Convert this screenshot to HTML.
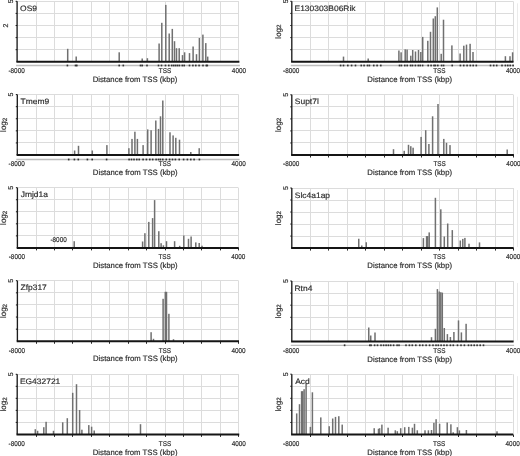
<!DOCTYPE html>
<html><head><meta charset="utf-8"><style>
html,body{margin:0;padding:0;background:#fff;}
svg text{stroke:#2e2e2e;stroke-width:0.18px;}
svg{display:block;font-family:"Liberation Sans", sans-serif;-webkit-font-smoothing:antialiased;text-rendering:geometricPrecision;filter:grayscale(1);}
</style></head><body>
<svg width="520" height="456" viewBox="0 0 520 456">
<rect width="520" height="456" fill="#fff"/>
<line x1="36.5" y1="1.3" x2="36.5" y2="61.8" stroke="#dcdcdc" stroke-width="1"/>
<line x1="54.5" y1="1.3" x2="54.5" y2="61.8" stroke="#dcdcdc" stroke-width="1"/>
<line x1="72.5" y1="1.3" x2="72.5" y2="61.8" stroke="#dcdcdc" stroke-width="1"/>
<line x1="91.5" y1="1.3" x2="91.5" y2="61.8" stroke="#dcdcdc" stroke-width="1"/>
<line x1="109.5" y1="1.3" x2="109.5" y2="61.8" stroke="#dcdcdc" stroke-width="1"/>
<line x1="128.5" y1="1.3" x2="128.5" y2="61.8" stroke="#dcdcdc" stroke-width="1"/>
<line x1="146.5" y1="1.3" x2="146.5" y2="61.8" stroke="#dcdcdc" stroke-width="1"/>
<line x1="165.5" y1="1.3" x2="165.5" y2="61.8" stroke="#dcdcdc" stroke-width="1"/>
<line x1="183.5" y1="1.3" x2="183.5" y2="61.8" stroke="#dcdcdc" stroke-width="1"/>
<line x1="201.5" y1="1.3" x2="201.5" y2="61.8" stroke="#dcdcdc" stroke-width="1"/>
<line x1="220.5" y1="1.3" x2="220.5" y2="61.8" stroke="#dcdcdc" stroke-width="1"/>
<line x1="238.5" y1="1.3" x2="238.5" y2="61.8" stroke="#dcdcdc" stroke-width="1"/>
<line x1="17.1" y1="1.5" x2="238.9" y2="1.5" stroke="#dcdcdc" stroke-width="1"/>
<line x1="17.1" y1="13.5" x2="238.9" y2="13.5" stroke="#dcdcdc" stroke-width="1"/>
<line x1="17.1" y1="25.5" x2="238.9" y2="25.5" stroke="#dcdcdc" stroke-width="1"/>
<line x1="17.1" y1="37.5" x2="238.9" y2="37.5" stroke="#dcdcdc" stroke-width="1"/>
<line x1="17.1" y1="49.5" x2="238.9" y2="49.5" stroke="#dcdcdc" stroke-width="1"/>
<rect x="66.95" y="48.8" width="1.5" height="13" fill="#707070"/>
<rect x="75.45" y="56.5" width="1.5" height="5.3" fill="#707070"/>
<rect x="118.45" y="52.3" width="1.5" height="9.5" fill="#707070"/>
<rect x="141.45" y="58.5" width="1.5" height="3.3" fill="#707070"/>
<rect x="146.65" y="58.2" width="1.5" height="3.6" fill="#707070"/>
<rect x="158.35" y="43.5" width="1.5" height="18.3" fill="#707070"/>
<rect x="161.05" y="22.8" width="1.5" height="39" fill="#707070"/>
<rect x="165.05" y="4.9" width="1.5" height="56.9" fill="#707070"/>
<rect x="168.45" y="33.5" width="1.5" height="28.3" fill="#707070"/>
<rect x="171.55" y="28.9" width="1.5" height="32.9" fill="#707070"/>
<rect x="173.75" y="41.2" width="1.5" height="20.6" fill="#707070"/>
<rect x="175.75" y="48.2" width="1.5" height="13.6" fill="#707070"/>
<rect x="178.45" y="48.2" width="1.5" height="13.6" fill="#707070"/>
<rect x="181.75" y="55.1" width="1.5" height="6.7" fill="#707070"/>
<rect x="183.85" y="52.3" width="1.5" height="9.5" fill="#707070"/>
<rect x="188.75" y="53.1" width="1.5" height="8.7" fill="#707070"/>
<rect x="192.35" y="46.5" width="1.5" height="15.3" fill="#707070"/>
<rect x="195.75" y="54.2" width="1.5" height="7.6" fill="#707070"/>
<rect x="198.65" y="38" width="1.5" height="23.8" fill="#707070"/>
<rect x="202.15" y="34.6" width="1.5" height="27.2" fill="#707070"/>
<rect x="205.05" y="43.1" width="1.5" height="18.7" fill="#707070"/>
<rect x="206.95" y="56.6" width="1.5" height="5.2" fill="#707070"/>
<line x1="15.6" y1="1.3" x2="17.1" y2="1.3" stroke="#151515" stroke-width="1"/>
<line x1="15.6" y1="13.4" x2="17.1" y2="13.4" stroke="#151515" stroke-width="1"/>
<line x1="15.6" y1="25.5" x2="17.1" y2="25.5" stroke="#151515" stroke-width="1"/>
<line x1="15.6" y1="37.6" x2="17.1" y2="37.6" stroke="#151515" stroke-width="1"/>
<line x1="15.6" y1="49.7" x2="17.1" y2="49.7" stroke="#151515" stroke-width="1"/>
<line x1="16.1" y1="65.5" x2="239.9" y2="65.5" stroke="#bdbdbd" stroke-width="1.3"/>
<rect x="66.6" y="64.6" width="1.6" height="1.8" fill="#333"/>
<rect x="74.7" y="64.6" width="1.6" height="1.8" fill="#333"/>
<rect x="76" y="64.6" width="1.6" height="1.8" fill="#333"/>
<rect x="118.4" y="64.6" width="1.6" height="1.8" fill="#333"/>
<rect x="122.5" y="64.6" width="1.6" height="1.8" fill="#333"/>
<rect x="139.7" y="64.6" width="1.6" height="1.8" fill="#333"/>
<rect x="141.4" y="64.6" width="1.6" height="1.8" fill="#333"/>
<rect x="146.2" y="64.6" width="1.6" height="1.8" fill="#333"/>
<rect x="157.7" y="64.6" width="1.6" height="1.8" fill="#333"/>
<rect x="160.7" y="64.6" width="1.6" height="1.8" fill="#333"/>
<rect x="164.7" y="64.6" width="1.6" height="1.8" fill="#333"/>
<rect x="168" y="64.6" width="1.6" height="1.8" fill="#333"/>
<rect x="170.9" y="64.6" width="1.6" height="1.8" fill="#333"/>
<rect x="172.9" y="64.6" width="1.6" height="1.8" fill="#333"/>
<rect x="174.8" y="64.6" width="1.6" height="1.8" fill="#333"/>
<rect x="176.7" y="64.6" width="1.6" height="1.8" fill="#333"/>
<rect x="178.6" y="64.6" width="1.6" height="1.8" fill="#333"/>
<rect x="181.5" y="64.6" width="1.6" height="1.8" fill="#333"/>
<rect x="183.4" y="64.6" width="1.6" height="1.8" fill="#333"/>
<rect x="188.7" y="64.6" width="1.6" height="1.8" fill="#333"/>
<rect x="192.1" y="64.6" width="1.6" height="1.8" fill="#333"/>
<rect x="195" y="64.6" width="1.6" height="1.8" fill="#333"/>
<rect x="198.3" y="64.6" width="1.6" height="1.8" fill="#333"/>
<rect x="202.2" y="64.6" width="1.6" height="1.8" fill="#333"/>
<rect x="205.5" y="64.6" width="1.6" height="1.8" fill="#333"/>
<rect x="206.5" y="64.6" width="1.6" height="1.8" fill="#333"/>
<line x1="17.1" y1="1.3" x2="17.1" y2="61.8" stroke="#1c1c1c" stroke-width="1.35"/>
<line x1="16.4" y1="61.8" x2="239.4" y2="61.8" stroke="#151515" stroke-width="2"/>
<text transform="translate(20.1,10.95) scale(1.07,1)" font-size="7.9" fill="#2e2e2e">OS9</text>
<text transform="translate(8.42,72.85) scale(0.91,1)" font-size="7" fill="#2e2e2e">-8000</text>
<text transform="translate(158.85,72.85) scale(0.91,1)" font-size="7" fill="#2e2e2e">TSS</text>
<text transform="translate(231.87,72.85) scale(0.91,1)" font-size="7" fill="#2e2e2e">4000</text>
<text transform="translate(92.66,81.9) scale(1,1)" font-size="7.75" fill="#2e2e2e">Distance from TSS (kbp)</text>
<text transform="translate(13.1,1.3) rotate(-90)" font-size="7" fill="#2e2e2e" text-anchor="middle" dy="0">5</text>
<text transform="translate(7.9,25.5) rotate(-90)" font-size="7" fill="#2e2e2e" text-anchor="middle" dy="0">2</text>
<line x1="310.5" y1="1.3" x2="310.5" y2="61.8" stroke="#dcdcdc" stroke-width="1"/>
<line x1="328.5" y1="1.3" x2="328.5" y2="61.8" stroke="#dcdcdc" stroke-width="1"/>
<line x1="347.5" y1="1.3" x2="347.5" y2="61.8" stroke="#dcdcdc" stroke-width="1"/>
<line x1="365.5" y1="1.3" x2="365.5" y2="61.8" stroke="#dcdcdc" stroke-width="1"/>
<line x1="384.5" y1="1.3" x2="384.5" y2="61.8" stroke="#dcdcdc" stroke-width="1"/>
<line x1="402.5" y1="1.3" x2="402.5" y2="61.8" stroke="#dcdcdc" stroke-width="1"/>
<line x1="421.5" y1="1.3" x2="421.5" y2="61.8" stroke="#dcdcdc" stroke-width="1"/>
<line x1="439.5" y1="1.3" x2="439.5" y2="61.8" stroke="#dcdcdc" stroke-width="1"/>
<line x1="458.5" y1="1.3" x2="458.5" y2="61.8" stroke="#dcdcdc" stroke-width="1"/>
<line x1="476.5" y1="1.3" x2="476.5" y2="61.8" stroke="#dcdcdc" stroke-width="1"/>
<line x1="495.5" y1="1.3" x2="495.5" y2="61.8" stroke="#dcdcdc" stroke-width="1"/>
<line x1="513.5" y1="1.3" x2="513.5" y2="61.8" stroke="#dcdcdc" stroke-width="1"/>
<line x1="291.8" y1="1.5" x2="513" y2="1.5" stroke="#dcdcdc" stroke-width="1"/>
<line x1="291.8" y1="13.5" x2="513" y2="13.5" stroke="#dcdcdc" stroke-width="1"/>
<line x1="291.8" y1="25.5" x2="513" y2="25.5" stroke="#dcdcdc" stroke-width="1"/>
<line x1="291.8" y1="37.5" x2="513" y2="37.5" stroke="#dcdcdc" stroke-width="1"/>
<line x1="291.8" y1="49.5" x2="513" y2="49.5" stroke="#dcdcdc" stroke-width="1"/>
<rect x="342.75" y="56.6" width="1.5" height="5.2" fill="#707070"/>
<rect x="367.45" y="58.5" width="1.5" height="3.3" fill="#707070"/>
<rect x="398.15" y="50.5" width="1.5" height="11.3" fill="#707070"/>
<rect x="400.35" y="52.3" width="1.5" height="9.5" fill="#707070"/>
<rect x="404.45" y="49.3" width="1.5" height="12.5" fill="#707070"/>
<rect x="406.35" y="49.5" width="1.5" height="12.3" fill="#707070"/>
<rect x="410.05" y="55.7" width="1.5" height="6.1" fill="#707070"/>
<rect x="411.95" y="50" width="1.5" height="11.8" fill="#707070"/>
<rect x="414.75" y="51.5" width="1.5" height="10.3" fill="#707070"/>
<rect x="417.75" y="50" width="1.5" height="11.8" fill="#707070"/>
<rect x="420.05" y="52" width="1.5" height="9.8" fill="#707070"/>
<rect x="421.95" y="36.9" width="1.5" height="24.9" fill="#707070"/>
<rect x="427.05" y="40.8" width="1.5" height="21" fill="#707070"/>
<rect x="429.75" y="31.8" width="1.5" height="30" fill="#707070"/>
<rect x="432.55" y="18.5" width="1.5" height="43.3" fill="#707070"/>
<rect x="434.55" y="16.2" width="1.5" height="45.6" fill="#707070"/>
<rect x="436.55" y="7.4" width="1.5" height="54.4" fill="#707070"/>
<rect x="440.45" y="53.8" width="1.5" height="8" fill="#707070"/>
<rect x="442.75" y="19.7" width="1.5" height="42.1" fill="#707070"/>
<rect x="451.15" y="45.4" width="1.5" height="16.4" fill="#707070"/>
<rect x="459.35" y="53.5" width="1.5" height="8.3" fill="#707070"/>
<rect x="463.05" y="45.7" width="1.5" height="16.1" fill="#707070"/>
<rect x="465.75" y="44.6" width="1.5" height="17.2" fill="#707070"/>
<rect x="469.35" y="43.8" width="1.5" height="18" fill="#707070"/>
<rect x="472.25" y="52" width="1.5" height="9.8" fill="#707070"/>
<rect x="504.65" y="56.2" width="1.5" height="5.6" fill="#707070"/>
<rect x="509.25" y="56.2" width="1.5" height="5.6" fill="#707070"/>
<rect x="511.85" y="52.3" width="1.5" height="9.5" fill="#707070"/>
<line x1="290.3" y1="1.3" x2="291.8" y2="1.3" stroke="#151515" stroke-width="1"/>
<line x1="290.3" y1="13.4" x2="291.8" y2="13.4" stroke="#151515" stroke-width="1"/>
<line x1="290.3" y1="25.5" x2="291.8" y2="25.5" stroke="#151515" stroke-width="1"/>
<line x1="290.3" y1="37.6" x2="291.8" y2="37.6" stroke="#151515" stroke-width="1"/>
<line x1="290.3" y1="49.7" x2="291.8" y2="49.7" stroke="#151515" stroke-width="1"/>
<line x1="290.8" y1="65.5" x2="514" y2="65.5" stroke="#bdbdbd" stroke-width="1.3"/>
<rect x="339.8" y="64.6" width="1.6" height="1.8" fill="#333"/>
<rect x="342.7" y="64.6" width="1.6" height="1.8" fill="#333"/>
<rect x="347" y="64.6" width="1.6" height="1.8" fill="#333"/>
<rect x="350.8" y="64.6" width="1.6" height="1.8" fill="#333"/>
<rect x="354.7" y="64.6" width="1.6" height="1.8" fill="#333"/>
<rect x="360.45" y="64.6" width="1.6" height="1.8" fill="#333"/>
<rect x="363.3" y="64.6" width="1.6" height="1.8" fill="#333"/>
<rect x="366.7" y="64.6" width="1.6" height="1.8" fill="#333"/>
<rect x="368.6" y="64.6" width="1.6" height="1.8" fill="#333"/>
<rect x="372.95" y="64.6" width="1.6" height="1.8" fill="#333"/>
<rect x="376.3" y="64.6" width="1.6" height="1.8" fill="#333"/>
<rect x="380" y="64.6" width="1.6" height="1.8" fill="#333"/>
<rect x="398.7" y="64.6" width="1.6" height="1.8" fill="#333"/>
<rect x="400.6" y="64.6" width="1.6" height="1.8" fill="#333"/>
<rect x="404" y="64.6" width="1.6" height="1.8" fill="#333"/>
<rect x="406.4" y="64.6" width="1.6" height="1.8" fill="#333"/>
<rect x="409.8" y="64.6" width="1.6" height="1.8" fill="#333"/>
<rect x="411.7" y="64.6" width="1.6" height="1.8" fill="#333"/>
<rect x="414.6" y="64.6" width="1.6" height="1.8" fill="#333"/>
<rect x="417.5" y="64.6" width="1.6" height="1.8" fill="#333"/>
<rect x="419.4" y="64.6" width="1.6" height="1.8" fill="#333"/>
<rect x="421.8" y="64.6" width="1.6" height="1.8" fill="#333"/>
<rect x="427.4" y="64.6" width="1.6" height="1.8" fill="#333"/>
<rect x="430.3" y="64.6" width="1.6" height="1.8" fill="#333"/>
<rect x="433.2" y="64.6" width="1.6" height="1.8" fill="#333"/>
<rect x="434.6" y="64.6" width="1.6" height="1.8" fill="#333"/>
<rect x="437" y="64.6" width="1.6" height="1.8" fill="#333"/>
<rect x="440.8" y="64.6" width="1.6" height="1.8" fill="#333"/>
<rect x="442.8" y="64.6" width="1.6" height="1.8" fill="#333"/>
<rect x="451.4" y="64.6" width="1.6" height="1.8" fill="#333"/>
<rect x="459.6" y="64.6" width="1.6" height="1.8" fill="#333"/>
<rect x="462.95" y="64.6" width="1.6" height="1.8" fill="#333"/>
<rect x="466.3" y="64.6" width="1.6" height="1.8" fill="#333"/>
<rect x="469.5" y="64.6" width="1.6" height="1.8" fill="#333"/>
<rect x="472.4" y="64.6" width="1.6" height="1.8" fill="#333"/>
<rect x="475.5" y="64.6" width="1.6" height="1.8" fill="#333"/>
<rect x="489.7" y="64.6" width="1.6" height="1.8" fill="#333"/>
<rect x="492.9" y="64.6" width="1.6" height="1.8" fill="#333"/>
<rect x="495.9" y="64.6" width="1.6" height="1.8" fill="#333"/>
<rect x="501.2" y="64.6" width="1.6" height="1.8" fill="#333"/>
<rect x="504.6" y="64.6" width="1.6" height="1.8" fill="#333"/>
<rect x="507" y="64.6" width="1.6" height="1.8" fill="#333"/>
<rect x="509.4" y="64.6" width="1.6" height="1.8" fill="#333"/>
<rect x="512.3" y="64.6" width="1.6" height="1.8" fill="#333"/>
<line x1="291.8" y1="1.3" x2="291.8" y2="61.8" stroke="#1c1c1c" stroke-width="1.35"/>
<line x1="291.1" y1="61.8" x2="513.5" y2="61.8" stroke="#151515" stroke-width="2"/>
<line x1="517.5" y1="3.3" x2="517.5" y2="60.8" stroke="#ebebeb" stroke-width="1"/>
<text transform="translate(294.51,10.95) scale(1.07,1)" font-size="7.9" fill="#2e2e2e">E130303B06Rik</text>
<text transform="translate(283.12,72.85) scale(0.91,1)" font-size="7" fill="#2e2e2e">-8000</text>
<text transform="translate(433.15,72.85) scale(0.91,1)" font-size="7" fill="#2e2e2e">TSS</text>
<text transform="translate(505.97,72.85) scale(0.91,1)" font-size="7" fill="#2e2e2e">4000</text>
<text transform="translate(367.36,81.9) scale(1,1)" font-size="7.75" fill="#2e2e2e">Distance from TSS (kbp)</text>
<text transform="translate(287.8,1.3) rotate(-90)" font-size="7" fill="#2e2e2e" text-anchor="middle" dy="0">5</text>
<text transform="translate(280.6,31.55) rotate(-90)" font-size="8" fill="#2e2e2e" text-anchor="middle">log<tspan font-size="6.3" dy="0.8">2</tspan></text>
<line x1="36.5" y1="94.6" x2="36.5" y2="155" stroke="#dcdcdc" stroke-width="1"/>
<line x1="54.5" y1="94.6" x2="54.5" y2="155" stroke="#dcdcdc" stroke-width="1"/>
<line x1="72.5" y1="94.6" x2="72.5" y2="155" stroke="#dcdcdc" stroke-width="1"/>
<line x1="91.5" y1="94.6" x2="91.5" y2="155" stroke="#dcdcdc" stroke-width="1"/>
<line x1="109.5" y1="94.6" x2="109.5" y2="155" stroke="#dcdcdc" stroke-width="1"/>
<line x1="128.5" y1="94.6" x2="128.5" y2="155" stroke="#dcdcdc" stroke-width="1"/>
<line x1="146.5" y1="94.6" x2="146.5" y2="155" stroke="#dcdcdc" stroke-width="1"/>
<line x1="165.5" y1="94.6" x2="165.5" y2="155" stroke="#dcdcdc" stroke-width="1"/>
<line x1="183.5" y1="94.6" x2="183.5" y2="155" stroke="#dcdcdc" stroke-width="1"/>
<line x1="201.5" y1="94.6" x2="201.5" y2="155" stroke="#dcdcdc" stroke-width="1"/>
<line x1="220.5" y1="94.6" x2="220.5" y2="155" stroke="#dcdcdc" stroke-width="1"/>
<line x1="238.5" y1="94.6" x2="238.5" y2="155" stroke="#dcdcdc" stroke-width="1"/>
<line x1="17.3" y1="94.5" x2="238.6" y2="94.5" stroke="#dcdcdc" stroke-width="1"/>
<line x1="17.3" y1="106.5" x2="238.6" y2="106.5" stroke="#dcdcdc" stroke-width="1"/>
<line x1="17.3" y1="118.5" x2="238.6" y2="118.5" stroke="#dcdcdc" stroke-width="1"/>
<line x1="17.3" y1="130.5" x2="238.6" y2="130.5" stroke="#dcdcdc" stroke-width="1"/>
<line x1="17.3" y1="142.5" x2="238.6" y2="142.5" stroke="#dcdcdc" stroke-width="1"/>
<rect x="73.85" y="150.5" width="1.5" height="4.5" fill="#707070"/>
<rect x="77.75" y="145.8" width="1.5" height="9.2" fill="#707070"/>
<rect x="91.55" y="150.5" width="1.5" height="4.5" fill="#707070"/>
<rect x="106.15" y="145.1" width="1.5" height="9.9" fill="#707070"/>
<rect x="128.15" y="148.2" width="1.5" height="6.8" fill="#707070"/>
<rect x="131.25" y="138.9" width="1.5" height="16.1" fill="#707070"/>
<rect x="134.15" y="131.7" width="1.5" height="23.3" fill="#707070"/>
<rect x="136.65" y="138.9" width="1.5" height="16.1" fill="#707070"/>
<rect x="142.35" y="145.1" width="1.5" height="9.9" fill="#707070"/>
<rect x="146.95" y="129.4" width="1.5" height="25.6" fill="#707070"/>
<rect x="150.35" y="130.2" width="1.5" height="24.8" fill="#707070"/>
<rect x="155.05" y="120.5" width="1.5" height="34.5" fill="#707070"/>
<rect x="157.75" y="128.9" width="1.5" height="26.1" fill="#707070"/>
<rect x="159.75" y="116.3" width="1.5" height="38.7" fill="#707070"/>
<rect x="162.05" y="100.5" width="1.5" height="54.5" fill="#707070"/>
<rect x="169.25" y="132.3" width="1.5" height="22.7" fill="#707070"/>
<rect x="172.35" y="135.4" width="1.5" height="19.6" fill="#707070"/>
<rect x="175.05" y="137.8" width="1.5" height="17.2" fill="#707070"/>
<rect x="178.75" y="139.7" width="1.5" height="15.3" fill="#707070"/>
<rect x="190.05" y="152" width="1.5" height="3" fill="#707070"/>
<rect x="198.45" y="148.2" width="1.5" height="6.8" fill="#707070"/>
<line x1="15.8" y1="94.6" x2="17.3" y2="94.6" stroke="#151515" stroke-width="1"/>
<line x1="15.8" y1="106.68" x2="17.3" y2="106.68" stroke="#151515" stroke-width="1"/>
<line x1="15.8" y1="118.76" x2="17.3" y2="118.76" stroke="#151515" stroke-width="1"/>
<line x1="15.8" y1="130.84" x2="17.3" y2="130.84" stroke="#151515" stroke-width="1"/>
<line x1="15.8" y1="142.92" x2="17.3" y2="142.92" stroke="#151515" stroke-width="1"/>
<line x1="16.3" y1="159.5" x2="239.6" y2="159.5" stroke="#bdbdbd" stroke-width="1.3"/>
<rect x="67.9" y="158.6" width="1.6" height="1.8" fill="#333"/>
<rect x="73.6" y="158.6" width="1.6" height="1.8" fill="#333"/>
<rect x="77.5" y="158.6" width="1.6" height="1.8" fill="#333"/>
<rect x="86.6" y="158.6" width="1.6" height="1.8" fill="#333"/>
<rect x="91.4" y="158.6" width="1.6" height="1.8" fill="#333"/>
<rect x="105.8" y="158.6" width="1.6" height="1.8" fill="#333"/>
<rect x="128.3" y="158.6" width="1.6" height="1.8" fill="#333"/>
<rect x="130.7" y="158.6" width="1.6" height="1.8" fill="#333"/>
<rect x="133.2" y="158.6" width="1.6" height="1.8" fill="#333"/>
<rect x="136" y="158.6" width="1.6" height="1.8" fill="#333"/>
<rect x="138.4" y="158.6" width="1.6" height="1.8" fill="#333"/>
<rect x="142.3" y="158.6" width="1.6" height="1.8" fill="#333"/>
<rect x="145.6" y="158.6" width="1.6" height="1.8" fill="#333"/>
<rect x="149" y="158.6" width="1.6" height="1.8" fill="#333"/>
<rect x="151.9" y="158.6" width="1.6" height="1.8" fill="#333"/>
<rect x="155.3" y="158.6" width="1.6" height="1.8" fill="#333"/>
<rect x="157.7" y="158.6" width="1.6" height="1.8" fill="#333"/>
<rect x="159.6" y="158.6" width="1.6" height="1.8" fill="#333"/>
<rect x="162" y="158.6" width="1.6" height="1.8" fill="#333"/>
<rect x="165.45" y="158.6" width="1.6" height="1.8" fill="#333"/>
<rect x="168.8" y="158.6" width="1.6" height="1.8" fill="#333"/>
<rect x="171.7" y="158.6" width="1.6" height="1.8" fill="#333"/>
<rect x="174.6" y="158.6" width="1.6" height="1.8" fill="#333"/>
<rect x="178.4" y="158.6" width="1.6" height="1.8" fill="#333"/>
<rect x="182.8" y="158.6" width="1.6" height="1.8" fill="#333"/>
<rect x="186.6" y="158.6" width="1.6" height="1.8" fill="#333"/>
<rect x="190" y="158.6" width="1.6" height="1.8" fill="#333"/>
<rect x="193.3" y="158.6" width="1.6" height="1.8" fill="#333"/>
<rect x="198.6" y="158.6" width="1.6" height="1.8" fill="#333"/>
<line x1="17.3" y1="94.6" x2="17.3" y2="155" stroke="#1c1c1c" stroke-width="1.35"/>
<line x1="16.6" y1="155" x2="239.1" y2="155" stroke="#151515" stroke-width="2"/>
<text transform="translate(20.51,104.25) scale(1.07,1)" font-size="7.9" fill="#2e2e2e">Tmem9</text>
<text transform="translate(8.62,166.35) scale(0.91,1)" font-size="7" fill="#2e2e2e">-8000</text>
<text transform="translate(158.71,166.35) scale(0.91,1)" font-size="7" fill="#2e2e2e">TSS</text>
<text transform="translate(231.57,166.35) scale(0.91,1)" font-size="7" fill="#2e2e2e">4000</text>
<text transform="translate(92.86,175.1) scale(1,1)" font-size="7.75" fill="#2e2e2e">Distance from TSS (kbp)</text>
<text transform="translate(13.3,94.6) rotate(-90)" font-size="7" fill="#2e2e2e" text-anchor="middle" dy="0">5</text>
<text transform="translate(6.1,124.8) rotate(-90)" font-size="8" fill="#2e2e2e" text-anchor="middle">log<tspan font-size="6.3" dy="0.8">2</tspan></text>
<line x1="310.5" y1="94.8" x2="310.5" y2="155" stroke="#dcdcdc" stroke-width="1"/>
<line x1="328.5" y1="94.8" x2="328.5" y2="155" stroke="#dcdcdc" stroke-width="1"/>
<line x1="347.5" y1="94.8" x2="347.5" y2="155" stroke="#dcdcdc" stroke-width="1"/>
<line x1="365.5" y1="94.8" x2="365.5" y2="155" stroke="#dcdcdc" stroke-width="1"/>
<line x1="384.5" y1="94.8" x2="384.5" y2="155" stroke="#dcdcdc" stroke-width="1"/>
<line x1="402.5" y1="94.8" x2="402.5" y2="155" stroke="#dcdcdc" stroke-width="1"/>
<line x1="421.5" y1="94.8" x2="421.5" y2="155" stroke="#dcdcdc" stroke-width="1"/>
<line x1="439.5" y1="94.8" x2="439.5" y2="155" stroke="#dcdcdc" stroke-width="1"/>
<line x1="458.5" y1="94.8" x2="458.5" y2="155" stroke="#dcdcdc" stroke-width="1"/>
<line x1="476.5" y1="94.8" x2="476.5" y2="155" stroke="#dcdcdc" stroke-width="1"/>
<line x1="495.5" y1="94.8" x2="495.5" y2="155" stroke="#dcdcdc" stroke-width="1"/>
<line x1="513.5" y1="94.8" x2="513.5" y2="155" stroke="#dcdcdc" stroke-width="1"/>
<line x1="291.8" y1="94.5" x2="513.4" y2="94.5" stroke="#dcdcdc" stroke-width="1"/>
<line x1="291.8" y1="106.5" x2="513.4" y2="106.5" stroke="#dcdcdc" stroke-width="1"/>
<line x1="291.8" y1="118.5" x2="513.4" y2="118.5" stroke="#dcdcdc" stroke-width="1"/>
<line x1="291.8" y1="130.5" x2="513.4" y2="130.5" stroke="#dcdcdc" stroke-width="1"/>
<line x1="291.8" y1="142.5" x2="513.4" y2="142.5" stroke="#dcdcdc" stroke-width="1"/>
<rect x="392.75" y="149.2" width="1.5" height="5.8" fill="#707070"/>
<rect x="403.45" y="150.8" width="1.5" height="4.2" fill="#707070"/>
<rect x="407.75" y="144.8" width="1.5" height="10.2" fill="#707070"/>
<rect x="410.05" y="146.2" width="1.5" height="8.8" fill="#707070"/>
<rect x="412.35" y="147.7" width="1.5" height="7.3" fill="#707070"/>
<rect x="420.35" y="136.9" width="1.5" height="18.1" fill="#707070"/>
<rect x="424.95" y="130.2" width="1.5" height="24.8" fill="#707070"/>
<rect x="428.15" y="144" width="1.5" height="11" fill="#707070"/>
<rect x="431.85" y="116.3" width="1.5" height="38.7" fill="#707070"/>
<rect x="437.25" y="104" width="1.5" height="51" fill="#707070"/>
<rect x="443.05" y="138.9" width="1.5" height="16.1" fill="#707070"/>
<rect x="445.75" y="142.8" width="1.5" height="12.2" fill="#707070"/>
<rect x="449.25" y="145.1" width="1.5" height="9.9" fill="#707070"/>
<rect x="506.45" y="149.5" width="1.5" height="5.5" fill="#707070"/>
<line x1="290.3" y1="94.8" x2="291.8" y2="94.8" stroke="#151515" stroke-width="1"/>
<line x1="290.3" y1="106.84" x2="291.8" y2="106.84" stroke="#151515" stroke-width="1"/>
<line x1="290.3" y1="118.88" x2="291.8" y2="118.88" stroke="#151515" stroke-width="1"/>
<line x1="290.3" y1="130.92" x2="291.8" y2="130.92" stroke="#151515" stroke-width="1"/>
<line x1="290.3" y1="142.96" x2="291.8" y2="142.96" stroke="#151515" stroke-width="1"/>
<line x1="310.5" y1="155" x2="310.5" y2="157.5" stroke="#151515" stroke-width="0.9"/>
<line x1="328.5" y1="155" x2="328.5" y2="157.5" stroke="#151515" stroke-width="0.9"/>
<line x1="347.5" y1="155" x2="347.5" y2="157.5" stroke="#151515" stroke-width="0.9"/>
<line x1="365.5" y1="155" x2="365.5" y2="157.5" stroke="#151515" stroke-width="0.9"/>
<line x1="384.5" y1="155" x2="384.5" y2="157.5" stroke="#151515" stroke-width="0.9"/>
<line x1="402.5" y1="155" x2="402.5" y2="157.5" stroke="#151515" stroke-width="0.9"/>
<line x1="421.5" y1="155" x2="421.5" y2="157.5" stroke="#151515" stroke-width="0.9"/>
<line x1="439.5" y1="155" x2="439.5" y2="157.5" stroke="#151515" stroke-width="0.9"/>
<line x1="458.5" y1="155" x2="458.5" y2="157.5" stroke="#151515" stroke-width="0.9"/>
<line x1="476.5" y1="155" x2="476.5" y2="157.5" stroke="#151515" stroke-width="0.9"/>
<line x1="495.5" y1="155" x2="495.5" y2="157.5" stroke="#151515" stroke-width="0.9"/>
<line x1="513.5" y1="155" x2="513.5" y2="157.5" stroke="#151515" stroke-width="0.9"/>
<line x1="291.8" y1="94.8" x2="291.8" y2="155" stroke="#1c1c1c" stroke-width="1.35"/>
<line x1="291.1" y1="155" x2="513.9" y2="155" stroke="#151515" stroke-width="2"/>
<line x1="517.5" y1="96.8" x2="517.5" y2="154" stroke="#ebebeb" stroke-width="1"/>
<text transform="translate(294.82,104.45) scale(1.07,1)" font-size="7.9" fill="#2e2e2e">Supt7l</text>
<text transform="translate(283.12,166.35) scale(0.91,1)" font-size="7" fill="#2e2e2e">-8000</text>
<text transform="translate(433.41,166.35) scale(0.91,1)" font-size="7" fill="#2e2e2e">TSS</text>
<text transform="translate(506.37,166.35) scale(0.91,1)" font-size="7" fill="#2e2e2e">4000</text>
<text transform="translate(367.36,175.1) scale(1,1)" font-size="7.75" fill="#2e2e2e">Distance from TSS (kbp)</text>
<text transform="translate(287.8,94.8) rotate(-90)" font-size="7" fill="#2e2e2e" text-anchor="middle" dy="0">5</text>
<text transform="translate(280.6,124.9) rotate(-90)" font-size="8" fill="#2e2e2e" text-anchor="middle">log<tspan font-size="6.3" dy="0.8">2</tspan></text>
<line x1="36.5" y1="187.7" x2="36.5" y2="247.9" stroke="#dcdcdc" stroke-width="1"/>
<line x1="54.5" y1="187.7" x2="54.5" y2="247.9" stroke="#dcdcdc" stroke-width="1"/>
<line x1="72.5" y1="187.7" x2="72.5" y2="247.9" stroke="#dcdcdc" stroke-width="1"/>
<line x1="91.5" y1="187.7" x2="91.5" y2="247.9" stroke="#dcdcdc" stroke-width="1"/>
<line x1="109.5" y1="187.7" x2="109.5" y2="247.9" stroke="#dcdcdc" stroke-width="1"/>
<line x1="128.5" y1="187.7" x2="128.5" y2="247.9" stroke="#dcdcdc" stroke-width="1"/>
<line x1="146.5" y1="187.7" x2="146.5" y2="247.9" stroke="#dcdcdc" stroke-width="1"/>
<line x1="165.5" y1="187.7" x2="165.5" y2="247.9" stroke="#dcdcdc" stroke-width="1"/>
<line x1="183.5" y1="187.7" x2="183.5" y2="247.9" stroke="#dcdcdc" stroke-width="1"/>
<line x1="201.5" y1="187.7" x2="201.5" y2="247.9" stroke="#dcdcdc" stroke-width="1"/>
<line x1="220.5" y1="187.7" x2="220.5" y2="247.9" stroke="#dcdcdc" stroke-width="1"/>
<line x1="238.5" y1="187.7" x2="238.5" y2="247.9" stroke="#dcdcdc" stroke-width="1"/>
<line x1="17.4" y1="187.5" x2="238.2" y2="187.5" stroke="#dcdcdc" stroke-width="1"/>
<line x1="17.4" y1="199.5" x2="238.2" y2="199.5" stroke="#dcdcdc" stroke-width="1"/>
<line x1="17.4" y1="211.5" x2="238.2" y2="211.5" stroke="#dcdcdc" stroke-width="1"/>
<line x1="17.4" y1="223.5" x2="238.2" y2="223.5" stroke="#dcdcdc" stroke-width="1"/>
<line x1="17.4" y1="235.5" x2="238.2" y2="235.5" stroke="#dcdcdc" stroke-width="1"/>
<rect x="73.45" y="241.2" width="1.5" height="6.7" fill="#707070"/>
<rect x="141.85" y="241.5" width="1.5" height="6.4" fill="#707070"/>
<rect x="144.15" y="233.2" width="1.5" height="14.7" fill="#707070"/>
<rect x="148.05" y="221.9" width="1.5" height="26" fill="#707070"/>
<rect x="151.85" y="218.1" width="1.5" height="29.8" fill="#707070"/>
<rect x="153.85" y="200.1" width="1.5" height="47.8" fill="#707070"/>
<rect x="158.05" y="231.2" width="1.5" height="16.7" fill="#707070"/>
<rect x="160.35" y="243.2" width="1.5" height="4.7" fill="#707070"/>
<rect x="162.65" y="245.3" width="1.5" height="2.6" fill="#707070"/>
<rect x="165.75" y="241.2" width="1.5" height="6.7" fill="#707070"/>
<rect x="173.85" y="241.2" width="1.5" height="6.7" fill="#707070"/>
<rect x="178.95" y="245.8" width="1.5" height="2.1" fill="#707070"/>
<rect x="183.05" y="235.5" width="1.5" height="12.4" fill="#707070"/>
<rect x="187.75" y="238.8" width="1.5" height="9.1" fill="#707070"/>
<rect x="190.35" y="236.5" width="1.5" height="11.4" fill="#707070"/>
<rect x="195.05" y="242.4" width="1.5" height="5.5" fill="#707070"/>
<rect x="198.45" y="243" width="1.5" height="4.9" fill="#707070"/>
<rect x="201.25" y="245.7" width="1.5" height="2.2" fill="#707070"/>
<line x1="15.9" y1="187.7" x2="17.4" y2="187.7" stroke="#151515" stroke-width="1"/>
<line x1="15.9" y1="199.74" x2="17.4" y2="199.74" stroke="#151515" stroke-width="1"/>
<line x1="15.9" y1="211.78" x2="17.4" y2="211.78" stroke="#151515" stroke-width="1"/>
<line x1="15.9" y1="223.82" x2="17.4" y2="223.82" stroke="#151515" stroke-width="1"/>
<line x1="15.9" y1="235.86" x2="17.4" y2="235.86" stroke="#151515" stroke-width="1"/>
<line x1="36.5" y1="247.9" x2="36.5" y2="250.4" stroke="#151515" stroke-width="0.9"/>
<line x1="54.5" y1="247.9" x2="54.5" y2="250.4" stroke="#151515" stroke-width="0.9"/>
<line x1="72.5" y1="247.9" x2="72.5" y2="250.4" stroke="#151515" stroke-width="0.9"/>
<line x1="91.5" y1="247.9" x2="91.5" y2="250.4" stroke="#151515" stroke-width="0.9"/>
<line x1="109.5" y1="247.9" x2="109.5" y2="250.4" stroke="#151515" stroke-width="0.9"/>
<line x1="128.5" y1="247.9" x2="128.5" y2="250.4" stroke="#151515" stroke-width="0.9"/>
<line x1="146.5" y1="247.9" x2="146.5" y2="250.4" stroke="#151515" stroke-width="0.9"/>
<line x1="165.5" y1="247.9" x2="165.5" y2="250.4" stroke="#151515" stroke-width="0.9"/>
<line x1="183.5" y1="247.9" x2="183.5" y2="250.4" stroke="#151515" stroke-width="0.9"/>
<line x1="201.5" y1="247.9" x2="201.5" y2="250.4" stroke="#151515" stroke-width="0.9"/>
<line x1="220.5" y1="247.9" x2="220.5" y2="250.4" stroke="#151515" stroke-width="0.9"/>
<line x1="238.5" y1="247.9" x2="238.5" y2="250.4" stroke="#151515" stroke-width="0.9"/>
<line x1="17.4" y1="187.7" x2="17.4" y2="247.9" stroke="#1c1c1c" stroke-width="1.35"/>
<line x1="16.7" y1="247.9" x2="238.7" y2="247.9" stroke="#151515" stroke-width="2"/>
<text transform="translate(20.67,197.35) scale(1.07,1)" font-size="7.9" fill="#2e2e2e">Jmjd1a</text>
<text transform="translate(8.72,259.1) scale(0.91,1)" font-size="7" fill="#2e2e2e">-8000</text>
<text transform="translate(158.48,259.1) scale(0.91,1)" font-size="7" fill="#2e2e2e">TSS</text>
<text transform="translate(231.17,259.1) scale(0.91,1)" font-size="7" fill="#2e2e2e">4000</text>
<text transform="translate(92.96,268) scale(1,1)" font-size="7.75" fill="#2e2e2e">Distance from TSS (kbp)</text>
<text transform="translate(13.4,187.7) rotate(-90)" font-size="7" fill="#2e2e2e" text-anchor="middle" dy="0">5</text>
<text transform="translate(6.2,217.8) rotate(-90)" font-size="8" fill="#2e2e2e" text-anchor="middle">log<tspan font-size="6.3" dy="0.8">2</tspan></text>
<text transform="translate(50.42,242) scale(0.91,1)" font-size="7" fill="#2e2e2e">-8000</text>
<line x1="310.5" y1="188" x2="310.5" y2="248.1" stroke="#dcdcdc" stroke-width="1"/>
<line x1="328.5" y1="188" x2="328.5" y2="248.1" stroke="#dcdcdc" stroke-width="1"/>
<line x1="347.5" y1="188" x2="347.5" y2="248.1" stroke="#dcdcdc" stroke-width="1"/>
<line x1="365.5" y1="188" x2="365.5" y2="248.1" stroke="#dcdcdc" stroke-width="1"/>
<line x1="384.5" y1="188" x2="384.5" y2="248.1" stroke="#dcdcdc" stroke-width="1"/>
<line x1="402.5" y1="188" x2="402.5" y2="248.1" stroke="#dcdcdc" stroke-width="1"/>
<line x1="421.5" y1="188" x2="421.5" y2="248.1" stroke="#dcdcdc" stroke-width="1"/>
<line x1="439.5" y1="188" x2="439.5" y2="248.1" stroke="#dcdcdc" stroke-width="1"/>
<line x1="458.5" y1="188" x2="458.5" y2="248.1" stroke="#dcdcdc" stroke-width="1"/>
<line x1="476.5" y1="188" x2="476.5" y2="248.1" stroke="#dcdcdc" stroke-width="1"/>
<line x1="495.5" y1="188" x2="495.5" y2="248.1" stroke="#dcdcdc" stroke-width="1"/>
<line x1="513.5" y1="188" x2="513.5" y2="248.1" stroke="#dcdcdc" stroke-width="1"/>
<line x1="291.8" y1="188.5" x2="513.1" y2="188.5" stroke="#dcdcdc" stroke-width="1"/>
<line x1="291.8" y1="200.5" x2="513.1" y2="200.5" stroke="#dcdcdc" stroke-width="1"/>
<line x1="291.8" y1="212.5" x2="513.1" y2="212.5" stroke="#dcdcdc" stroke-width="1"/>
<line x1="291.8" y1="224.5" x2="513.1" y2="224.5" stroke="#dcdcdc" stroke-width="1"/>
<line x1="291.8" y1="236.5" x2="513.1" y2="236.5" stroke="#dcdcdc" stroke-width="1"/>
<rect x="358" y="238.75" width="1.5" height="9.35" fill="#707070"/>
<rect x="361" y="245.5" width="1.5" height="2.6" fill="#707070"/>
<rect x="365.5" y="242.25" width="1.5" height="5.85" fill="#707070"/>
<rect x="422.65" y="238.1" width="1.5" height="10" fill="#707070"/>
<rect x="425.85" y="236.1" width="1.5" height="12" fill="#707070"/>
<rect x="426.95" y="236.1" width="1.5" height="12" fill="#707070"/>
<rect x="428.45" y="232.4" width="1.5" height="15.7" fill="#707070"/>
<rect x="434.65" y="197.8" width="1.5" height="50.3" fill="#707070"/>
<rect x="440.05" y="209.3" width="1.5" height="38.8" fill="#707070"/>
<rect x="443.55" y="236.5" width="1.5" height="11.6" fill="#707070"/>
<rect x="446.95" y="223.5" width="1.5" height="24.6" fill="#707070"/>
<rect x="451.55" y="230.1" width="1.5" height="18" fill="#707070"/>
<rect x="459.55" y="240.5" width="1.5" height="7.6" fill="#707070"/>
<rect x="462.05" y="238.9" width="1.5" height="9.2" fill="#707070"/>
<rect x="464.15" y="237.9" width="1.5" height="10.2" fill="#707070"/>
<rect x="468.25" y="243.7" width="1.5" height="4.4" fill="#707070"/>
<rect x="478.75" y="242.4" width="1.5" height="5.7" fill="#707070"/>
<line x1="290.3" y1="188" x2="291.8" y2="188" stroke="#151515" stroke-width="1"/>
<line x1="290.3" y1="200.02" x2="291.8" y2="200.02" stroke="#151515" stroke-width="1"/>
<line x1="290.3" y1="212.04" x2="291.8" y2="212.04" stroke="#151515" stroke-width="1"/>
<line x1="290.3" y1="224.06" x2="291.8" y2="224.06" stroke="#151515" stroke-width="1"/>
<line x1="290.3" y1="236.08" x2="291.8" y2="236.08" stroke="#151515" stroke-width="1"/>
<line x1="310.5" y1="248.1" x2="310.5" y2="250.6" stroke="#151515" stroke-width="0.9"/>
<line x1="328.5" y1="248.1" x2="328.5" y2="250.6" stroke="#151515" stroke-width="0.9"/>
<line x1="347.5" y1="248.1" x2="347.5" y2="250.6" stroke="#151515" stroke-width="0.9"/>
<line x1="365.5" y1="248.1" x2="365.5" y2="250.6" stroke="#151515" stroke-width="0.9"/>
<line x1="384.5" y1="248.1" x2="384.5" y2="250.6" stroke="#151515" stroke-width="0.9"/>
<line x1="402.5" y1="248.1" x2="402.5" y2="250.6" stroke="#151515" stroke-width="0.9"/>
<line x1="421.5" y1="248.1" x2="421.5" y2="250.6" stroke="#151515" stroke-width="0.9"/>
<line x1="439.5" y1="248.1" x2="439.5" y2="250.6" stroke="#151515" stroke-width="0.9"/>
<line x1="458.5" y1="248.1" x2="458.5" y2="250.6" stroke="#151515" stroke-width="0.9"/>
<line x1="476.5" y1="248.1" x2="476.5" y2="250.6" stroke="#151515" stroke-width="0.9"/>
<line x1="495.5" y1="248.1" x2="495.5" y2="250.6" stroke="#151515" stroke-width="0.9"/>
<line x1="513.5" y1="248.1" x2="513.5" y2="250.6" stroke="#151515" stroke-width="0.9"/>
<line x1="291.8" y1="188" x2="291.8" y2="248.1" stroke="#1c1c1c" stroke-width="1.35"/>
<line x1="291.1" y1="248.1" x2="513.6" y2="248.1" stroke="#151515" stroke-width="2"/>
<line x1="517.5" y1="190" x2="517.5" y2="247.1" stroke="#ebebeb" stroke-width="1"/>
<text transform="translate(294.82,197.65) scale(1.07,1)" font-size="7.9" fill="#2e2e2e">Slc4a1ap</text>
<text transform="translate(433.21,259.3) scale(0.91,1)" font-size="7" fill="#2e2e2e">TSS</text>
<text transform="translate(506.07,259.3) scale(0.91,1)" font-size="7" fill="#2e2e2e">4000</text>
<text transform="translate(367.36,268.2) scale(1,1)" font-size="7.75" fill="#2e2e2e">Distance from TSS (kbp)</text>
<text transform="translate(287.8,188) rotate(-90)" font-size="7" fill="#2e2e2e" text-anchor="middle" dy="0">5</text>
<text transform="translate(280.6,218.05) rotate(-90)" font-size="8" fill="#2e2e2e" text-anchor="middle">log<tspan font-size="6.3" dy="0.8">2</tspan></text>
<line x1="36.5" y1="280.7" x2="36.5" y2="341.3" stroke="#dcdcdc" stroke-width="1"/>
<line x1="54.5" y1="280.7" x2="54.5" y2="341.3" stroke="#dcdcdc" stroke-width="1"/>
<line x1="72.5" y1="280.7" x2="72.5" y2="341.3" stroke="#dcdcdc" stroke-width="1"/>
<line x1="91.5" y1="280.7" x2="91.5" y2="341.3" stroke="#dcdcdc" stroke-width="1"/>
<line x1="109.5" y1="280.7" x2="109.5" y2="341.3" stroke="#dcdcdc" stroke-width="1"/>
<line x1="128.5" y1="280.7" x2="128.5" y2="341.3" stroke="#dcdcdc" stroke-width="1"/>
<line x1="146.5" y1="280.7" x2="146.5" y2="341.3" stroke="#dcdcdc" stroke-width="1"/>
<line x1="165.5" y1="280.7" x2="165.5" y2="341.3" stroke="#dcdcdc" stroke-width="1"/>
<line x1="183.5" y1="280.7" x2="183.5" y2="341.3" stroke="#dcdcdc" stroke-width="1"/>
<line x1="201.5" y1="280.7" x2="201.5" y2="341.3" stroke="#dcdcdc" stroke-width="1"/>
<line x1="220.5" y1="280.7" x2="220.5" y2="341.3" stroke="#dcdcdc" stroke-width="1"/>
<line x1="238.5" y1="280.7" x2="238.5" y2="341.3" stroke="#dcdcdc" stroke-width="1"/>
<line x1="17.4" y1="280.5" x2="238.5" y2="280.5" stroke="#dcdcdc" stroke-width="1"/>
<line x1="17.4" y1="292.5" x2="238.5" y2="292.5" stroke="#dcdcdc" stroke-width="1"/>
<line x1="17.4" y1="304.5" x2="238.5" y2="304.5" stroke="#dcdcdc" stroke-width="1"/>
<line x1="17.4" y1="317.5" x2="238.5" y2="317.5" stroke="#dcdcdc" stroke-width="1"/>
<line x1="17.4" y1="329.5" x2="238.5" y2="329.5" stroke="#dcdcdc" stroke-width="1"/>
<rect x="150.35" y="332.2" width="1.5" height="9.1" fill="#707070"/>
<rect x="152.75" y="338.8" width="1.5" height="2.5" fill="#707070"/>
<rect x="162.35" y="298.8" width="1.5" height="42.5" fill="#707070"/>
<rect x="164.55" y="291.8" width="1.5" height="49.5" fill="#707070"/>
<rect x="165.75" y="291.8" width="1.5" height="49.5" fill="#707070"/>
<rect x="168.15" y="313.8" width="1.5" height="27.5" fill="#707070"/>
<rect x="172.75" y="339.2" width="1.5" height="2.1" fill="#707070"/>
<line x1="15.9" y1="280.7" x2="17.4" y2="280.7" stroke="#151515" stroke-width="1"/>
<line x1="15.9" y1="292.82" x2="17.4" y2="292.82" stroke="#151515" stroke-width="1"/>
<line x1="15.9" y1="304.94" x2="17.4" y2="304.94" stroke="#151515" stroke-width="1"/>
<line x1="15.9" y1="317.06" x2="17.4" y2="317.06" stroke="#151515" stroke-width="1"/>
<line x1="15.9" y1="329.18" x2="17.4" y2="329.18" stroke="#151515" stroke-width="1"/>
<line x1="36.5" y1="341.3" x2="36.5" y2="343.8" stroke="#151515" stroke-width="0.9"/>
<line x1="54.5" y1="341.3" x2="54.5" y2="343.8" stroke="#151515" stroke-width="0.9"/>
<line x1="72.5" y1="341.3" x2="72.5" y2="343.8" stroke="#151515" stroke-width="0.9"/>
<line x1="91.5" y1="341.3" x2="91.5" y2="343.8" stroke="#151515" stroke-width="0.9"/>
<line x1="109.5" y1="341.3" x2="109.5" y2="343.8" stroke="#151515" stroke-width="0.9"/>
<line x1="128.5" y1="341.3" x2="128.5" y2="343.8" stroke="#151515" stroke-width="0.9"/>
<line x1="146.5" y1="341.3" x2="146.5" y2="343.8" stroke="#151515" stroke-width="0.9"/>
<line x1="165.5" y1="341.3" x2="165.5" y2="343.8" stroke="#151515" stroke-width="0.9"/>
<line x1="183.5" y1="341.3" x2="183.5" y2="343.8" stroke="#151515" stroke-width="0.9"/>
<line x1="201.5" y1="341.3" x2="201.5" y2="343.8" stroke="#151515" stroke-width="0.9"/>
<line x1="220.5" y1="341.3" x2="220.5" y2="343.8" stroke="#151515" stroke-width="0.9"/>
<line x1="238.5" y1="341.3" x2="238.5" y2="343.8" stroke="#151515" stroke-width="0.9"/>
<line x1="17.4" y1="280.7" x2="17.4" y2="341.3" stroke="#1c1c1c" stroke-width="1.35"/>
<line x1="16.7" y1="341.3" x2="239" y2="341.3" stroke="#151515" stroke-width="2"/>
<text transform="translate(20.53,290.35) scale(1.07,1)" font-size="7.9" fill="#2e2e2e">Zfp317</text>
<text transform="translate(8.72,352.8) scale(0.91,1)" font-size="7" fill="#2e2e2e">-8000</text>
<text transform="translate(158.68,352.8) scale(0.91,1)" font-size="7" fill="#2e2e2e">TSS</text>
<text transform="translate(231.47,352.8) scale(0.91,1)" font-size="7" fill="#2e2e2e">4000</text>
<text transform="translate(92.96,361.4) scale(1,1)" font-size="7.75" fill="#2e2e2e">Distance from TSS (kbp)</text>
<text transform="translate(13.4,280.7) rotate(-90)" font-size="7" fill="#2e2e2e" text-anchor="middle" dy="0">5</text>
<text transform="translate(6.2,311) rotate(-90)" font-size="8" fill="#2e2e2e" text-anchor="middle">log<tspan font-size="6.3" dy="0.8">2</tspan></text>
<line x1="310.5" y1="281" x2="310.5" y2="341.5" stroke="#dcdcdc" stroke-width="1"/>
<line x1="328.5" y1="281" x2="328.5" y2="341.5" stroke="#dcdcdc" stroke-width="1"/>
<line x1="347.5" y1="281" x2="347.5" y2="341.5" stroke="#dcdcdc" stroke-width="1"/>
<line x1="365.5" y1="281" x2="365.5" y2="341.5" stroke="#dcdcdc" stroke-width="1"/>
<line x1="384.5" y1="281" x2="384.5" y2="341.5" stroke="#dcdcdc" stroke-width="1"/>
<line x1="402.5" y1="281" x2="402.5" y2="341.5" stroke="#dcdcdc" stroke-width="1"/>
<line x1="421.5" y1="281" x2="421.5" y2="341.5" stroke="#dcdcdc" stroke-width="1"/>
<line x1="439.5" y1="281" x2="439.5" y2="341.5" stroke="#dcdcdc" stroke-width="1"/>
<line x1="458.5" y1="281" x2="458.5" y2="341.5" stroke="#dcdcdc" stroke-width="1"/>
<line x1="476.5" y1="281" x2="476.5" y2="341.5" stroke="#dcdcdc" stroke-width="1"/>
<line x1="495.5" y1="281" x2="495.5" y2="341.5" stroke="#dcdcdc" stroke-width="1"/>
<line x1="513.5" y1="281" x2="513.5" y2="341.5" stroke="#dcdcdc" stroke-width="1"/>
<line x1="291.8" y1="281.5" x2="513.1" y2="281.5" stroke="#dcdcdc" stroke-width="1"/>
<line x1="291.8" y1="293.5" x2="513.1" y2="293.5" stroke="#dcdcdc" stroke-width="1"/>
<line x1="291.8" y1="305.5" x2="513.1" y2="305.5" stroke="#dcdcdc" stroke-width="1"/>
<line x1="291.8" y1="317.5" x2="513.1" y2="317.5" stroke="#dcdcdc" stroke-width="1"/>
<line x1="291.8" y1="329.5" x2="513.1" y2="329.5" stroke="#dcdcdc" stroke-width="1"/>
<rect x="368" y="327.5" width="1.5" height="14" fill="#707070"/>
<rect x="370" y="335.5" width="1.5" height="6" fill="#707070"/>
<rect x="374.25" y="332.5" width="1.5" height="9" fill="#707070"/>
<rect x="430.75" y="337.2" width="1.5" height="4.3" fill="#707070"/>
<rect x="434.65" y="328.8" width="1.5" height="12.7" fill="#707070"/>
<rect x="436.65" y="289.1" width="1.5" height="52.4" fill="#707070"/>
<rect x="438.45" y="291.5" width="1.5" height="50" fill="#707070"/>
<rect x="440.05" y="292.2" width="1.5" height="49.3" fill="#707070"/>
<rect x="441.55" y="292.6" width="1.5" height="48.9" fill="#707070"/>
<rect x="443.55" y="328" width="1.5" height="13.5" fill="#707070"/>
<rect x="446.65" y="334.1" width="1.5" height="7.4" fill="#707070"/>
<rect x="449.65" y="337" width="1.5" height="4.5" fill="#707070"/>
<rect x="453.15" y="332" width="1.5" height="9.5" fill="#707070"/>
<rect x="457.75" y="320.4" width="1.5" height="21.1" fill="#707070"/>
<rect x="460.65" y="332.4" width="1.5" height="9.1" fill="#707070"/>
<rect x="465.35" y="323.8" width="1.5" height="17.7" fill="#707070"/>
<line x1="290.3" y1="281" x2="291.8" y2="281" stroke="#151515" stroke-width="1"/>
<line x1="290.3" y1="293.1" x2="291.8" y2="293.1" stroke="#151515" stroke-width="1"/>
<line x1="290.3" y1="305.2" x2="291.8" y2="305.2" stroke="#151515" stroke-width="1"/>
<line x1="290.3" y1="317.3" x2="291.8" y2="317.3" stroke="#151515" stroke-width="1"/>
<line x1="290.3" y1="329.4" x2="291.8" y2="329.4" stroke="#151515" stroke-width="1"/>
<line x1="290.8" y1="345.3" x2="514.1" y2="345.3" stroke="#bdbdbd" stroke-width="1.3"/>
<rect x="343.8" y="344.4" width="1.6" height="1.8" fill="#333"/>
<rect x="369" y="344.4" width="1.6" height="1.8" fill="#333"/>
<rect x="370.3" y="344.4" width="1.6" height="1.8" fill="#333"/>
<rect x="373.8" y="344.4" width="1.6" height="1.8" fill="#333"/>
<rect x="376.7" y="344.4" width="1.6" height="1.8" fill="#333"/>
<rect x="380.2" y="344.4" width="1.6" height="1.8" fill="#333"/>
<rect x="382.8" y="344.4" width="1.6" height="1.8" fill="#333"/>
<rect x="385.3" y="344.4" width="1.6" height="1.8" fill="#333"/>
<rect x="387.6" y="344.4" width="1.6" height="1.8" fill="#333"/>
<rect x="389.9" y="344.4" width="1.6" height="1.8" fill="#333"/>
<rect x="392.8" y="344.4" width="1.6" height="1.8" fill="#333"/>
<rect x="396.3" y="344.4" width="1.6" height="1.8" fill="#333"/>
<rect x="398.2" y="344.4" width="1.6" height="1.8" fill="#333"/>
<rect x="405.2" y="344.4" width="1.6" height="1.8" fill="#333"/>
<rect x="408.6" y="344.4" width="1.6" height="1.8" fill="#333"/>
<rect x="411.5" y="344.4" width="1.6" height="1.8" fill="#333"/>
<rect x="415" y="344.4" width="1.6" height="1.8" fill="#333"/>
<rect x="419" y="344.4" width="1.6" height="1.8" fill="#333"/>
<rect x="421.9" y="344.4" width="1.6" height="1.8" fill="#333"/>
<rect x="425.3" y="344.4" width="1.6" height="1.8" fill="#333"/>
<rect x="428.8" y="344.4" width="1.6" height="1.8" fill="#333"/>
<rect x="432.2" y="344.4" width="1.6" height="1.8" fill="#333"/>
<rect x="435.2" y="344.4" width="1.6" height="1.8" fill="#333"/>
<rect x="437.5" y="344.4" width="1.6" height="1.8" fill="#333"/>
<rect x="440.3" y="344.4" width="1.6" height="1.8" fill="#333"/>
<rect x="443.2" y="344.4" width="1.6" height="1.8" fill="#333"/>
<rect x="446.1" y="344.4" width="1.6" height="1.8" fill="#333"/>
<rect x="449.6" y="344.4" width="1.6" height="1.8" fill="#333"/>
<rect x="452.5" y="344.4" width="1.6" height="1.8" fill="#333"/>
<rect x="456.7" y="344.4" width="1.6" height="1.8" fill="#333"/>
<rect x="460.2" y="344.4" width="1.6" height="1.8" fill="#333"/>
<rect x="463.6" y="344.4" width="1.6" height="1.8" fill="#333"/>
<rect x="467.7" y="344.4" width="1.6" height="1.8" fill="#333"/>
<rect x="470.5" y="344.4" width="1.6" height="1.8" fill="#333"/>
<rect x="473.4" y="344.4" width="1.6" height="1.8" fill="#333"/>
<rect x="476.3" y="344.4" width="1.6" height="1.8" fill="#333"/>
<rect x="479.4" y="344.4" width="1.6" height="1.8" fill="#333"/>
<rect x="482.7" y="344.4" width="1.6" height="1.8" fill="#333"/>
<line x1="291.8" y1="281" x2="291.8" y2="341.5" stroke="#1c1c1c" stroke-width="1.35"/>
<line x1="291.1" y1="341.5" x2="513.6" y2="341.5" stroke="#151515" stroke-width="2"/>
<line x1="517.5" y1="283" x2="517.5" y2="340.5" stroke="#ebebeb" stroke-width="1"/>
<text transform="translate(294.51,290.65) scale(1.07,1)" font-size="7.9" fill="#2e2e2e">Rtn4</text>
<text transform="translate(283.12,353) scale(0.91,1)" font-size="7" fill="#2e2e2e">-8000</text>
<text transform="translate(433.21,353) scale(0.91,1)" font-size="7" fill="#2e2e2e">TSS</text>
<text transform="translate(506.07,353) scale(0.91,1)" font-size="7" fill="#2e2e2e">4000</text>
<text transform="translate(367.36,361.6) scale(1,1)" font-size="7.75" fill="#2e2e2e">Distance from TSS (kbp)</text>
<text transform="translate(287.8,281) rotate(-90)" font-size="7" fill="#2e2e2e" text-anchor="middle" dy="0">5</text>
<text transform="translate(280.6,311.25) rotate(-90)" font-size="8" fill="#2e2e2e" text-anchor="middle">log<tspan font-size="6.3" dy="0.8">2</tspan></text>
<line x1="36.5" y1="374.3" x2="36.5" y2="434.4" stroke="#dcdcdc" stroke-width="1"/>
<line x1="54.5" y1="374.3" x2="54.5" y2="434.4" stroke="#dcdcdc" stroke-width="1"/>
<line x1="72.5" y1="374.3" x2="72.5" y2="434.4" stroke="#dcdcdc" stroke-width="1"/>
<line x1="91.5" y1="374.3" x2="91.5" y2="434.4" stroke="#dcdcdc" stroke-width="1"/>
<line x1="109.5" y1="374.3" x2="109.5" y2="434.4" stroke="#dcdcdc" stroke-width="1"/>
<line x1="128.5" y1="374.3" x2="128.5" y2="434.4" stroke="#dcdcdc" stroke-width="1"/>
<line x1="146.5" y1="374.3" x2="146.5" y2="434.4" stroke="#dcdcdc" stroke-width="1"/>
<line x1="165.5" y1="374.3" x2="165.5" y2="434.4" stroke="#dcdcdc" stroke-width="1"/>
<line x1="183.5" y1="374.3" x2="183.5" y2="434.4" stroke="#dcdcdc" stroke-width="1"/>
<line x1="201.5" y1="374.3" x2="201.5" y2="434.4" stroke="#dcdcdc" stroke-width="1"/>
<line x1="220.5" y1="374.3" x2="220.5" y2="434.4" stroke="#dcdcdc" stroke-width="1"/>
<line x1="238.5" y1="374.3" x2="238.5" y2="434.4" stroke="#dcdcdc" stroke-width="1"/>
<line x1="17.2" y1="374.5" x2="238.75" y2="374.5" stroke="#dcdcdc" stroke-width="1"/>
<line x1="17.2" y1="386.5" x2="238.75" y2="386.5" stroke="#dcdcdc" stroke-width="1"/>
<line x1="17.2" y1="398.5" x2="238.75" y2="398.5" stroke="#dcdcdc" stroke-width="1"/>
<line x1="17.2" y1="410.5" x2="238.75" y2="410.5" stroke="#dcdcdc" stroke-width="1"/>
<line x1="17.2" y1="422.5" x2="238.75" y2="422.5" stroke="#dcdcdc" stroke-width="1"/>
<rect x="34.55" y="429.2" width="1.5" height="5.2" fill="#707070"/>
<rect x="36.85" y="430.8" width="1.5" height="3.6" fill="#707070"/>
<rect x="43.05" y="427.2" width="1.5" height="7.2" fill="#707070"/>
<rect x="45.35" y="421.8" width="1.5" height="12.6" fill="#707070"/>
<rect x="52.75" y="430.8" width="1.5" height="3.6" fill="#707070"/>
<rect x="61.95" y="422.3" width="1.5" height="12.1" fill="#707070"/>
<rect x="66.55" y="418.2" width="1.5" height="16.2" fill="#707070"/>
<rect x="71.95" y="392.8" width="1.5" height="41.6" fill="#707070"/>
<rect x="75.75" y="384.2" width="1.5" height="50.2" fill="#707070"/>
<rect x="78.85" y="410" width="1.5" height="24.4" fill="#707070"/>
<rect x="81.15" y="429.7" width="1.5" height="4.7" fill="#707070"/>
<rect x="88.05" y="425.1" width="1.5" height="9.3" fill="#707070"/>
<rect x="90.85" y="426.7" width="1.5" height="7.7" fill="#707070"/>
<rect x="93.45" y="430.5" width="1.5" height="3.9" fill="#707070"/>
<rect x="139.75" y="424.2" width="1.5" height="10.2" fill="#707070"/>
<line x1="15.7" y1="374.3" x2="17.2" y2="374.3" stroke="#151515" stroke-width="1"/>
<line x1="15.7" y1="386.32" x2="17.2" y2="386.32" stroke="#151515" stroke-width="1"/>
<line x1="15.7" y1="398.34" x2="17.2" y2="398.34" stroke="#151515" stroke-width="1"/>
<line x1="15.7" y1="410.36" x2="17.2" y2="410.36" stroke="#151515" stroke-width="1"/>
<line x1="15.7" y1="422.38" x2="17.2" y2="422.38" stroke="#151515" stroke-width="1"/>
<line x1="36.5" y1="434.4" x2="36.5" y2="436.9" stroke="#151515" stroke-width="0.9"/>
<line x1="54.5" y1="434.4" x2="54.5" y2="436.9" stroke="#151515" stroke-width="0.9"/>
<line x1="72.5" y1="434.4" x2="72.5" y2="436.9" stroke="#151515" stroke-width="0.9"/>
<line x1="91.5" y1="434.4" x2="91.5" y2="436.9" stroke="#151515" stroke-width="0.9"/>
<line x1="109.5" y1="434.4" x2="109.5" y2="436.9" stroke="#151515" stroke-width="0.9"/>
<line x1="128.5" y1="434.4" x2="128.5" y2="436.9" stroke="#151515" stroke-width="0.9"/>
<line x1="146.5" y1="434.4" x2="146.5" y2="436.9" stroke="#151515" stroke-width="0.9"/>
<line x1="165.5" y1="434.4" x2="165.5" y2="436.9" stroke="#151515" stroke-width="0.9"/>
<line x1="183.5" y1="434.4" x2="183.5" y2="436.9" stroke="#151515" stroke-width="0.9"/>
<line x1="201.5" y1="434.4" x2="201.5" y2="436.9" stroke="#151515" stroke-width="0.9"/>
<line x1="220.5" y1="434.4" x2="220.5" y2="436.9" stroke="#151515" stroke-width="0.9"/>
<line x1="238.5" y1="434.4" x2="238.5" y2="436.9" stroke="#151515" stroke-width="0.9"/>
<line x1="17.2" y1="374.3" x2="17.2" y2="434.4" stroke="#1c1c1c" stroke-width="1.35"/>
<line x1="16.5" y1="434.4" x2="239.25" y2="434.4" stroke="#151515" stroke-width="2"/>
<text transform="translate(19.91,383.95) scale(1.07,1)" font-size="7.9" fill="#2e2e2e">EG432721</text>
<text transform="translate(8.52,446) scale(0.91,1)" font-size="7" fill="#2e2e2e">-8000</text>
<text transform="translate(158.78,446) scale(0.91,1)" font-size="7" fill="#2e2e2e">TSS</text>
<text transform="translate(231.72,446) scale(0.91,1)" font-size="7" fill="#2e2e2e">4000</text>
<text transform="translate(92.76,454.5) scale(1,1)" font-size="7.75" fill="#2e2e2e">Distance from TSS (kbp)</text>
<text transform="translate(13.2,374.3) rotate(-90)" font-size="7" fill="#2e2e2e" text-anchor="middle" dy="0">5</text>
<text transform="translate(6,404.35) rotate(-90)" font-size="8" fill="#2e2e2e" text-anchor="middle">log<tspan font-size="6.3" dy="0.8">2</tspan></text>
<line x1="310.5" y1="374.2" x2="310.5" y2="434.5" stroke="#dcdcdc" stroke-width="1"/>
<line x1="328.5" y1="374.2" x2="328.5" y2="434.5" stroke="#dcdcdc" stroke-width="1"/>
<line x1="347.5" y1="374.2" x2="347.5" y2="434.5" stroke="#dcdcdc" stroke-width="1"/>
<line x1="365.5" y1="374.2" x2="365.5" y2="434.5" stroke="#dcdcdc" stroke-width="1"/>
<line x1="384.5" y1="374.2" x2="384.5" y2="434.5" stroke="#dcdcdc" stroke-width="1"/>
<line x1="402.5" y1="374.2" x2="402.5" y2="434.5" stroke="#dcdcdc" stroke-width="1"/>
<line x1="421.5" y1="374.2" x2="421.5" y2="434.5" stroke="#dcdcdc" stroke-width="1"/>
<line x1="439.5" y1="374.2" x2="439.5" y2="434.5" stroke="#dcdcdc" stroke-width="1"/>
<line x1="458.5" y1="374.2" x2="458.5" y2="434.5" stroke="#dcdcdc" stroke-width="1"/>
<line x1="476.5" y1="374.2" x2="476.5" y2="434.5" stroke="#dcdcdc" stroke-width="1"/>
<line x1="495.5" y1="374.2" x2="495.5" y2="434.5" stroke="#dcdcdc" stroke-width="1"/>
<line x1="513.5" y1="374.2" x2="513.5" y2="434.5" stroke="#dcdcdc" stroke-width="1"/>
<line x1="291.8" y1="374.5" x2="512.6" y2="374.5" stroke="#dcdcdc" stroke-width="1"/>
<line x1="291.8" y1="386.5" x2="512.6" y2="386.5" stroke="#dcdcdc" stroke-width="1"/>
<line x1="291.8" y1="398.5" x2="512.6" y2="398.5" stroke="#dcdcdc" stroke-width="1"/>
<line x1="291.8" y1="410.5" x2="512.6" y2="410.5" stroke="#dcdcdc" stroke-width="1"/>
<line x1="291.8" y1="422.5" x2="512.6" y2="422.5" stroke="#dcdcdc" stroke-width="1"/>
<rect x="295.95" y="413.4" width="1.5" height="21.1" fill="#707070"/>
<rect x="298.75" y="404.2" width="1.5" height="30.3" fill="#707070"/>
<rect x="300.85" y="391.2" width="1.5" height="43.3" fill="#707070"/>
<rect x="301.95" y="391.2" width="1.5" height="43.3" fill="#707070"/>
<rect x="303.35" y="389.2" width="1.5" height="45.3" fill="#707070"/>
<rect x="305.35" y="383.5" width="1.5" height="51" fill="#707070"/>
<rect x="309.65" y="426.9" width="1.5" height="7.6" fill="#707070"/>
<rect x="311.65" y="392.3" width="1.5" height="42.2" fill="#707070"/>
<rect x="320.05" y="417.4" width="1.5" height="17.1" fill="#707070"/>
<rect x="328.45" y="426.2" width="1.5" height="8.3" fill="#707070"/>
<rect x="331.95" y="418.5" width="1.5" height="16" fill="#707070"/>
<rect x="334.75" y="416.9" width="1.5" height="17.6" fill="#707070"/>
<rect x="338.05" y="416.2" width="1.5" height="18.3" fill="#707070"/>
<rect x="341.45" y="424.6" width="1.5" height="9.9" fill="#707070"/>
<rect x="373.45" y="428.2" width="1.5" height="6.3" fill="#707070"/>
<rect x="377.75" y="428.8" width="1.5" height="5.7" fill="#707070"/>
<rect x="378.85" y="428.2" width="1.5" height="6.3" fill="#707070"/>
<rect x="381.15" y="424.6" width="1.5" height="9.9" fill="#707070"/>
<rect x="387.35" y="427.7" width="1.5" height="6.8" fill="#707070"/>
<rect x="394.55" y="430.3" width="1.5" height="4.2" fill="#707070"/>
<rect x="396.55" y="431.2" width="1.5" height="3.3" fill="#707070"/>
<rect x="399.95" y="428.2" width="1.5" height="6.3" fill="#707070"/>
<rect x="403.95" y="427.2" width="1.5" height="7.3" fill="#707070"/>
<rect x="408.05" y="426.9" width="1.5" height="7.6" fill="#707070"/>
<rect x="411.65" y="427.7" width="1.5" height="6.8" fill="#707070"/>
<rect x="413.75" y="423.8" width="1.5" height="10.7" fill="#707070"/>
<rect x="416.55" y="430.3" width="1.5" height="4.2" fill="#707070"/>
<rect x="424.25" y="430.3" width="1.5" height="4.2" fill="#707070"/>
<rect x="427.65" y="430.3" width="1.5" height="4.2" fill="#707070"/>
<rect x="430.75" y="430" width="1.5" height="4.5" fill="#707070"/>
<rect x="433.15" y="422.8" width="1.5" height="11.7" fill="#707070"/>
<rect x="435.35" y="419.2" width="1.5" height="15.3" fill="#707070"/>
<rect x="438.85" y="423.8" width="1.5" height="10.7" fill="#707070"/>
<rect x="446.45" y="422.5" width="1.5" height="12" fill="#707070"/>
<rect x="450.15" y="424.3" width="1.5" height="10.2" fill="#707070"/>
<rect x="452.45" y="432.3" width="1.5" height="2.2" fill="#707070"/>
<rect x="456.65" y="427.2" width="1.5" height="7.3" fill="#707070"/>
<rect x="458.65" y="430.4" width="1.5" height="4.1" fill="#707070"/>
<rect x="465.65" y="430" width="1.5" height="4.5" fill="#707070"/>
<rect x="496.25" y="431.3" width="1.5" height="3.2" fill="#707070"/>
<line x1="290.3" y1="374.2" x2="291.8" y2="374.2" stroke="#151515" stroke-width="1"/>
<line x1="290.3" y1="386.26" x2="291.8" y2="386.26" stroke="#151515" stroke-width="1"/>
<line x1="290.3" y1="398.32" x2="291.8" y2="398.32" stroke="#151515" stroke-width="1"/>
<line x1="290.3" y1="410.38" x2="291.8" y2="410.38" stroke="#151515" stroke-width="1"/>
<line x1="290.3" y1="422.44" x2="291.8" y2="422.44" stroke="#151515" stroke-width="1"/>
<line x1="310.5" y1="434.5" x2="310.5" y2="437" stroke="#151515" stroke-width="0.9"/>
<line x1="328.5" y1="434.5" x2="328.5" y2="437" stroke="#151515" stroke-width="0.9"/>
<line x1="347.5" y1="434.5" x2="347.5" y2="437" stroke="#151515" stroke-width="0.9"/>
<line x1="365.5" y1="434.5" x2="365.5" y2="437" stroke="#151515" stroke-width="0.9"/>
<line x1="384.5" y1="434.5" x2="384.5" y2="437" stroke="#151515" stroke-width="0.9"/>
<line x1="402.5" y1="434.5" x2="402.5" y2="437" stroke="#151515" stroke-width="0.9"/>
<line x1="421.5" y1="434.5" x2="421.5" y2="437" stroke="#151515" stroke-width="0.9"/>
<line x1="439.5" y1="434.5" x2="439.5" y2="437" stroke="#151515" stroke-width="0.9"/>
<line x1="458.5" y1="434.5" x2="458.5" y2="437" stroke="#151515" stroke-width="0.9"/>
<line x1="476.5" y1="434.5" x2="476.5" y2="437" stroke="#151515" stroke-width="0.9"/>
<line x1="495.5" y1="434.5" x2="495.5" y2="437" stroke="#151515" stroke-width="0.9"/>
<line x1="513.5" y1="434.5" x2="513.5" y2="437" stroke="#151515" stroke-width="0.9"/>
<line x1="291.8" y1="374.2" x2="291.8" y2="434.5" stroke="#1c1c1c" stroke-width="1.35"/>
<line x1="291.1" y1="434.5" x2="513.1" y2="434.5" stroke="#151515" stroke-width="2"/>
<line x1="517.5" y1="376.2" x2="517.5" y2="433.5" stroke="#ebebeb" stroke-width="1"/>
<text transform="translate(295.18,383.85) scale(1.07,1)" font-size="7.9" fill="#2e2e2e">Acd</text>
<text transform="translate(283.12,446.1) scale(0.91,1)" font-size="7" fill="#2e2e2e">-8000</text>
<text transform="translate(432.88,446.1) scale(0.91,1)" font-size="7" fill="#2e2e2e">TSS</text>
<text transform="translate(505.57,446.1) scale(0.91,1)" font-size="7" fill="#2e2e2e">4000</text>
<text transform="translate(367.36,454.6) scale(1,1)" font-size="7.75" fill="#2e2e2e">Distance from TSS (kbp)</text>
<text transform="translate(287.8,374.2) rotate(-90)" font-size="7" fill="#2e2e2e" text-anchor="middle" dy="0">5</text>
<text transform="translate(280.6,404.35) rotate(-90)" font-size="8" fill="#2e2e2e" text-anchor="middle">log<tspan font-size="6.3" dy="0.8">2</tspan></text>
</svg>
</body></html>
